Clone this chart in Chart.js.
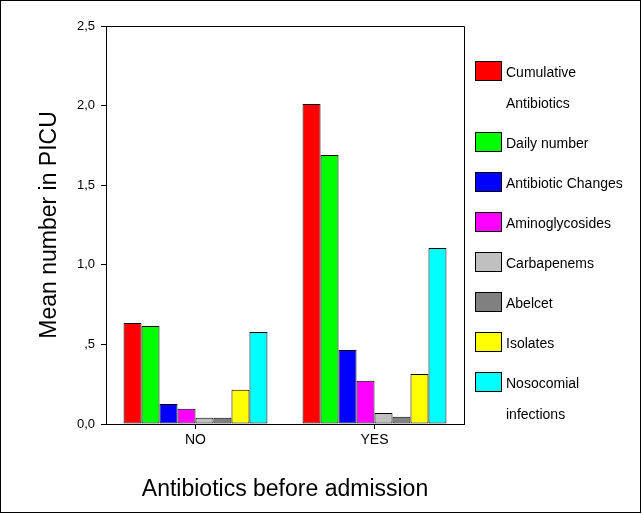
<!DOCTYPE html>
<html>
<head>
<meta charset="utf-8">
<script src="https://cdn.jsdelivr.net/npm/chart.js@4/dist/chart.umd.min.js"></script>
<style>
  html, body { margin: 0; padding: 0; background: #fff; }
</style>
</head>
<body>
<canvas id="antibioticsChart" width="642" height="514"></canvas>
<script>
var categories = ["NO", "YES"];
var seriesNames = [
    ["Cumulative", "Antibiotics"],
    "Daily number",
    "Antibiotic Changes",
    "Aminoglycosides",
    "Carbapenems",
    "Abelcet",
    "Isolates",
    ["Nosocomial", "infections"]
];
var cumulativeAntibiotics = [0.634, 2.01];
var dailyNumber = [0.616, 1.69];
var antibioticChanges = [0.126, 0.465];
var aminoglycosides = [0.096, 0.272];
var carbapenems = [0.040, 0.069];
var abelcet = [0.040, 0.046];
var isolates = [0.215, 0.314];
var nosocomialInfections = [0.578, 1.105];
var yTickLabels = ["0,0", ",5", "1,0", "1,5", "2,0", "2,5"];

var seriesColors = ["#ff0000", "#00ff00", "#0000ff", "#ff00ff", "#c0c0c0", "#808080", "#ffff00", "#00ffff"];
var seriesValues = [cumulativeAntibiotics, dailyNumber, antibioticChanges, aminoglycosides,
    carbapenems, abelcet, isolates, nosocomialInfections];

var fontFamily = "'Liberation Sans', Arial, sans-serif";

var datasets = [];
for (var i = 0; i < seriesValues.length; i++) {
    datasets.push({
        label: seriesNames[i],
        data: seriesValues[i],
        backgroundColor: seriesColors[i],
        borderColor: "#000",
        borderWidth: 1,
        borderSkipped: false,
        categoryPercentage: 0.804,
        barPercentage: 1
    });
}

// frame round the plot area, outer border and the legend on the right
var framePlugin = {
    id: "frame",
    afterDraw: function (chart) {
        var ctx = chart.ctx;
        var a = chart.chartArea;
        ctx.save();
        ctx.strokeStyle = "#000";
        ctx.lineWidth = 1;
        ctx.beginPath();
        ctx.moveTo(Math.round(a.left) + 0.5, Math.round(a.top) + 0.5);
        ctx.lineTo(Math.round(a.right) + 0.5, Math.round(a.top) + 0.5);
        ctx.lineTo(Math.round(a.right) + 0.5, Math.round(a.bottom) + 0.5);
        ctx.stroke();
        ctx.strokeRect(0.5, 0.5, chart.width - 2, chart.height - 2);

        // legend
        var y = 61.5;
        ctx.font = "14px " + fontFamily;
        ctx.textBaseline = "middle";
        ctx.textAlign = "left";
        chart.data.datasets.forEach(function (ds) {
            ctx.fillStyle = ds.backgroundColor;
            ctx.fillRect(475.5, y, 26, 19);
            ctx.strokeStyle = "#000";
            ctx.strokeRect(475.5, y, 26, 19);
            var lines = Array.isArray(ds.label) ? ds.label : [ds.label];
            ctx.fillStyle = "#000";
            for (var k = 0; k < lines.length; k++) {
                ctx.fillText(lines[k], 506, y + 12 + k * 31);
            }
            y += 40 + (lines.length - 1) * 31;
        });
        ctx.restore();
    }
};

var ctx = document.getElementById("antibioticsChart").getContext("2d");
var chart = new Chart(ctx, {
    type: "bar",
    data: {
        labels: categories,
        datasets: datasets
    },
    options: {
        responsive: false,
        animation: false,
        layout: {
            padding: { top: 26, right: 178, left: 0, bottom: 0 }
        },
        plugins: {
            legend: { display: false },
            tooltip: { enabled: false }
        },
        scales: {
            x: {
                afterFit: function (scale) { scale.height = 90; },
                grid: {
                    offset: false,
                    drawOnChartArea: false,
                    color: "#000",
                    tickLength: 5
                },
                border: { color: "#000", width: 1 },
                ticks: {
                    color: "#000",
                    padding: 3,
                    font: { family: fontFamily, size: 14 }
                },
                title: {
                    display: true,
                    text: "Antibiotics before admission",
                    color: "#000",
                    padding: { top: 0, bottom: 11 },
                    font: { family: fontFamily, size: 23 }
                }
            },
            y: {
                min: 0,
                max: 2.5,
                afterFit: function (scale) { scale.width = 106; },
                grid: {
                    drawOnChartArea: false,
                    color: "#000",
                    tickLength: 5
                },
                border: { color: "#000", width: 1 },
                ticks: {
                    stepSize: 0.5,
                    color: "#000",
                    padding: 6,
                    font: { family: fontFamily, size: 13 },
                    callback: function (value, index) {
                        return yTickLabels[index];
                    }
                },
                title: {
                    display: true,
                    text: "Mean number in PICU",
                    color: "#000",
                    padding: { top: 36, bottom: 0 },
                    font: { family: fontFamily, size: 23 }
                }
            }
        }
    },
    plugins: [framePlugin]
});
</script>
</body>
</html>
